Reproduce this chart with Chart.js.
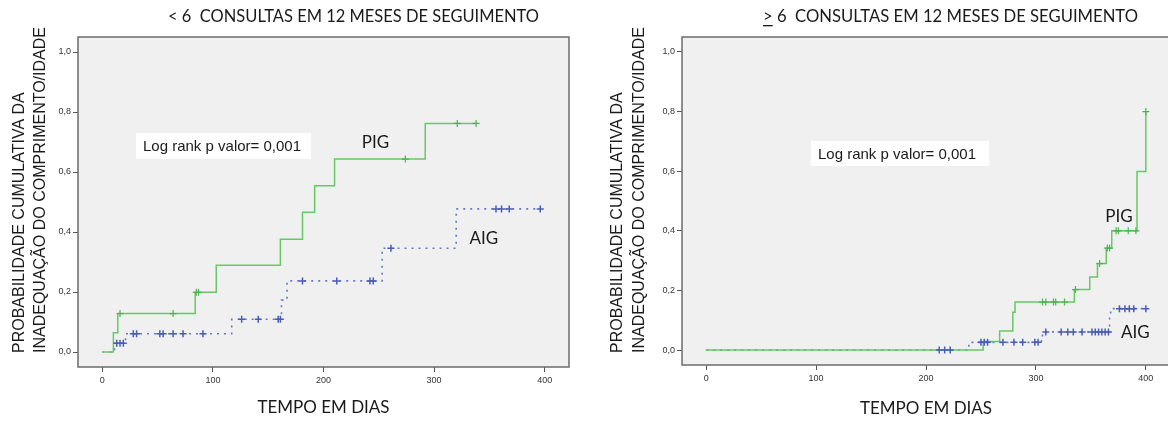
<!DOCTYPE html>
<html lang="pt">
<head>
<meta charset="utf-8">
<title>Inadequação do comprimento/idade – Kaplan-Meier</title>
<script src="https://cdn.jsdelivr.net/npm/chart.js@4.4.1/dist/chart.umd.min.js"></script>
<style>
  html, body { margin: 0; padding: 0; background: #fff; overflow: hidden; }
  #chartLess { position: absolute; left: 0; top: 0; }
  #chartMore { position: absolute; left: 584px; top: 0; }
</style>
</head>
<body>
<canvas id="chartLess" width="584" height="421"></canvas>
<canvas id="chartMore" width="600" height="421"></canvas>
<script>
// ---- eixos comuns ----
const dayTicks = [0, 100, 200, 300, 400];
const probTicks = [0, 0.2, 0.4, 0.6, 0.8, 1.0];

// ---- < 6 consultas ----
const pigLessDays = [0, 10, 14, 84, 103, 161, 181, 192, 210, 292, 338];
const pigLessProb = [0, 0.064, 0.128, 0.199, 0.289, 0.376, 0.466, 0.554, 0.643, 0.762, 0.762];
const pigLessCensored = [16, 64, 85, 87, 274, 321, 338];

const aigLessDays = [0, 11, 21, 117, 162, 167, 253, 320, 396];
const aigLessProb = [0, 0.029, 0.061, 0.109, 0.173, 0.237, 0.346, 0.477, 0.477];
const aigLessCensored = [13, 16, 19, 28, 31, 52, 55, 64, 73, 91, 126, 141, 159, 161,
                         181, 212, 242, 245, 261, 356, 361, 368, 396];

// ---- >= 6 consultas ----
const pigMoreDays = [0, 252, 267, 279, 281, 335, 349, 356, 364, 369, 392, 400];
const pigMoreProb = [0, 0.029, 0.064, 0.127, 0.161, 0.203, 0.245, 0.290, 0.342, 0.400, 0.599, 0.800];
const pigMoreCensored = [306, 309, 316, 318, 326, 336, 358, 365, 367, 373, 375, 384, 391, 400];

const aigMoreDays = [0, 239, 305, 306, 367, 368, 400];
const aigMoreProb = [0, 0.026, 0.045, 0.061, 0.107, 0.139, 0.139];
const aigMoreCensored = [212, 217, 222, 250, 253, 256, 270, 280, 288, 299, 302, 309, 323, 329,
                         334, 342, 351, 354, 357, 360, 363, 366, 376, 381, 385, 389, 400];

const GREEN = '#66c966';
const GREEN_MARK = '#4cb552';
const BLUE = '#6679c9';
const BLUE_MARK = '#4a5db5';

function curve(days, probs) {
    return days.map((d, i) => ({ x: d, y: probs[i] }));
}

// nível da curva no tempo t (última queda <= t)
function levelAt(days, probs, t) {
    let v = probs[0];
    for (let i = 0; i < days.length; i++) {
        if (days[i] <= t) v = probs[i];
    }
    return v;
}

function censorPoints(times, days, probs) {
    return times.map(t => ({ x: t, y: levelAt(days, probs, t) }));
}

// fundo cinza, moldura e textos do gráfico
const kmDecor = {
    id: 'kmDecor',
    beforeDraw(chart) {
        const { ctx, chartArea: a } = chart;
        ctx.save();
        ctx.fillStyle = '#f0f0f0';
        ctx.fillRect(a.left, a.top, a.right - a.left, a.bottom - a.top);
        ctx.restore();
    },
    afterDatasetsDraw(chart) {
        const { ctx, chartArea: a } = chart;
        ctx.save();
        ctx.strokeStyle = '#6b6b6b';
        ctx.lineWidth = 1.5;
        ctx.strokeRect(a.left, a.top, a.right - a.left, a.bottom - a.top);
        ctx.restore();
    },
    afterDraw(chart, args, o) {
        const { ctx, chartArea: a, scales } = chart;
        ctx.save();
        ctx.fillStyle = '#1a1a1a';

        // título
        ctx.font = '17px Lato';
        ctx.textAlign = 'left';
        ctx.textBaseline = 'middle';
        const fullW = ctx.measureText(o.title).width;
        const k = Math.min(1, o.titleWidth / fullW);
        ctx.fillText(o.title, o.titleX, o.titleY, o.titleWidth);
        if (o.underlineFirst) {
            const w = ctx.measureText(o.title[0]).width * k;
            ctx.fillRect(o.titleX, o.titleY + 8, w, 1.3);
        }

        // título do eixo y, duas linhas
        ctx.font = '16px "Liberation Sans"';
        o.yTitle.forEach((line, i) => {
            ctx.save();
            ctx.translate(o.yTitleX[i], o.yTitleBottom);
            ctx.rotate(-Math.PI / 2);
            ctx.textAlign = 'left';
            ctx.fillText(line, 0, 0);
            ctx.restore();
        });

        // título do eixo x
        ctx.font = '17px Lato';
        ctx.textAlign = 'center';
        ctx.fillText(o.xTitle, (a.left + a.right) / 2, o.xTitleY);

        // caixa do log rank
        const b = o.logRank;
        ctx.fillStyle = '#ffffff';
        ctx.fillRect(b.left, b.top, b.width, b.height);
        ctx.fillStyle = '#1a1a1a';
        ctx.font = '15px "Liberation Sans"';
        ctx.textAlign = 'left';
        ctx.fillText(b.text, b.left + 7, b.top + b.height / 2 + 1);

        // rótulos dos grupos
        ctx.font = '17px Lato';
        ctx.textAlign = 'center';
        o.groups.forEach(g => {
            ctx.fillText(g.text, scales.x.getPixelForValue(g.day), scales.y.getPixelForValue(g.prob));
        });
        ctx.restore();
    }
};

function buildChart(canvasId, s) {
    return new Chart(document.getElementById(canvasId), {
        type: 'scatter',
        data: {
            datasets: [
                {
                    label: 'PIG censurados',
                    data: censorPoints(s.pigCensored, s.pigDays, s.pigProb),
                    pointStyle: 'cross',
                    pointRadius: 3.5,
                    borderWidth: 1.2,
                    borderColor: GREEN_MARK,
                    order: 0
                },
                {
                    label: 'AIG censurados',
                    data: censorPoints(s.aigCensored, s.aigDays, s.aigProb),
                    pointStyle: 'cross',
                    pointRadius: 3.5,
                    borderWidth: 1.5,
                    borderColor: BLUE_MARK,
                    order: 0
                },
                {
                    label: 'PIG',
                    data: curve(s.pigDays, s.pigProb),
                    showLine: true,
                    stepped: true,
                    pointRadius: 0,
                    borderColor: GREEN,
                    borderWidth: 1.5,
                    order: 1
                },
                {
                    label: 'AIG',
                    data: curve(s.aigDays, s.aigProb),
                    showLine: true,
                    stepped: true,
                    borderDash: [2, 5],
                    pointRadius: 0,
                    borderColor: BLUE,
                    borderWidth: 1.6,
                    order: 2
                }
            ]
        },
        options: {
            responsive: false,
            animation: false,
            events: [],
            layout: { padding: { top: 37, right: s.padRight, left: 0, bottom: 0 } },
            plugins: {
                legend: { display: false },
                tooltip: { enabled: false },
                kmDecor: s.decor
            },
            scales: {
                x: {
                    type: 'linear',
                    min: -22,
                    max: 422,
                    afterBuildTicks: sc => { sc.ticks = dayTicks.map(v => ({ value: v })); },
                    afterFit: sc => { sc.height = s.xAxisHeight; },
                    grid: { drawOnChartArea: false, tickLength: 5, color: '#555' },
                    border: { display: false },
                    ticks: {
                        autoSkip: false,
                        maxRotation: 0,
                        padding: 3,
                        color: '#333',
                        font: { family: 'Liberation Sans', size: 9 }
                    }
                },
                y: {
                    type: 'linear',
                    min: -0.05,
                    max: 1.05,
                    afterBuildTicks: sc => { sc.ticks = probTicks.map(v => ({ value: v })); },
                    afterFit: sc => { sc.width = s.yAxisWidth; },
                    grid: { drawOnChartArea: false, tickLength: 5, color: '#555' },
                    border: { display: false },
                    ticks: {
                        padding: 2,
                        color: '#333',
                        font: { family: 'Liberation Sans', size: 9 },
                        callback: v => v.toFixed(1).replace('.', ',')
                    }
                }
            }
        },
        plugins: [kmDecor]
    });
}

const yTitleLines = ['PROBABILIDADE CUMULATIVA DA', 'INADEQUAÇÃO DO COMPRIMENTO/IDADE'];

buildChart('chartLess', {
    pigDays: pigLessDays, pigProb: pigLessProb, pigCensored: pigLessCensored,
    aigDays: aigLessDays, aigProb: aigLessProb, aigCensored: aigLessCensored,
    padRight: 15, yAxisWidth: 78, xAxisHeight: 54,
    decor: {
        title: '< 6  CONSULTAS EM 12 MESES DE SEGUIMENTO',
        titleX: 168, titleY: 17, titleWidth: 371, underlineFirst: false,
        yTitle: yTitleLines, yTitleX: [19.5, 40.5], yTitleBottom: 353,
        xTitle: 'TEMPO EM DIAS', xTitleY: 408,
        logRank: { text: 'Log rank p valor= 0,001', left: 136, top: 133, width: 175, height: 26 },
        groups: [
            { text: 'PIG', day: 247, prob: 0.697 },
            { text: 'AIG', day: 345, prob: 0.377 }
        ]
    }
});

buildChart('chartMore', {
    pigDays: pigMoreDays, pigProb: pigMoreProb, pigCensored: pigMoreCensored,
    aigDays: aigMoreDays, aigProb: aigMoreProb, aigCensored: aigMoreCensored,
    padRight: 14, yAxisWidth: 98, xAxisHeight: 56,
    decor: {
        title: '> 6  CONSULTAS EM 12 MESES DE SEGUIMENTO',
        titleX: 179, titleY: 17, titleWidth: 375, underlineFirst: true,
        yTitle: yTitleLines, yTitleX: [33.5, 55.5], yTitleBottom: 353,
        xTitle: 'TEMPO EM DIAS', xTitleY: 409,
        logRank: { text: 'Log rank p valor= 0,001', left: 227, top: 141, width: 178, height: 25 },
        groups: [
            { text: 'PIG', day: 375.5, prob: 0.448 },
            { text: 'AIG', day: 390.5, prob: 0.06 }
        ]
    }
});
</script>
</body>
</html>
